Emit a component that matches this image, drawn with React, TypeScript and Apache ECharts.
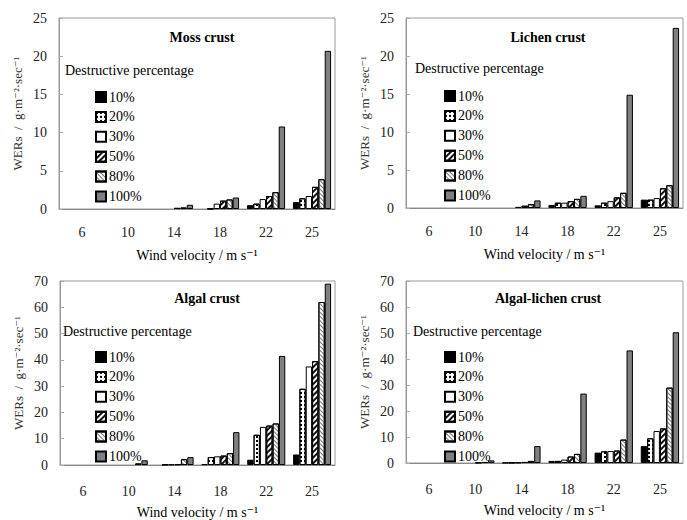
import React, { useEffect, useRef } from 'react';
import * as echarts from 'echarts';

const velocities = ['6', '10', '14', '18', '22', '25'];
const percentages = ['10%', '20%', '30%', '50%', '80%', '100%'];

// values per wind velocity: [10%, 20%, 30%, 50%, 80%, 100%]
const mossByVelocity = [
  [0, 0, 0, 0, 0, 0],
  [0, 0, 0, 0, 0, 0],
  [0, 0, 0, 0.15, 0.2, 0.55],
  [0, 0.05, 0.7, 1.1, 1.25, 1.5],
  [0.5, 0.7, 1.3, 1.7, 2.2, 10.8],
  [0.9, 1.4, 1.7, 2.9, 3.9, 20.7],
];
const lichenByVelocity = [
  [0, 0, 0, 0, 0, 0],
  [0, 0, 0, 0, 0, 0],
  [0, 0, 0.15, 0.3, 0.5, 1.0],
  [0.4, 0.7, 0.7, 0.9, 1.2, 1.6],
  [0.35, 0.7, 0.9, 1.4, 2.0, 14.9],
  [1.1, 1.1, 1.3, 2.6, 3.0, 23.7],
];
const algalByVelocity = [
  [0, 0, 0, 0, 0, 0],
  [0, 0, 0, 0, 0.6, 1.8],
  [0, 0.2, 0.2, 0.3, 2.2, 3.0],
  [0.3, 3.0, 3.3, 3.6, 4.5, 12.5],
  [2.0, 11.5, 14.5, 15.0, 15.8, 41.5],
  [4.0, 29.0, 37.5, 39.5, 62.0, 69.0],
];
const algalLichenByVelocity = [
  [0, 0, 0, 0, 0, 0],
  [0, 0, 0, 0.2, 0.4, 1.0],
  [0.1, 0.2, 0.2, 0.4, 0.8, 6.5],
  [0.8, 0.8, 1.3, 2.5, 3.5, 26.7],
  [4.0, 4.5, 4.6, 4.8, 9.0, 43.3],
  [6.5, 9.5, 12.3, 13.3, 29.0, 50.3],
];

const panelTitles = ['Moss crust', 'Lichen crust', 'Algal crust', 'Algal-lichen crust'];
const panelData = [mossByVelocity, lichenByVelocity, algalByVelocity, algalLichenByVelocity];
const panelMax = [25, 25, 70, 70];
const panelInterval = [5, 5, 10, 10];

const SERIF = "'Liberation Serif', 'Times New Roman', Times, 'DejaVu Serif', 'Noto Serif', serif";

const grids = [
  { left: 59, top: 18, width: 276, height: 191 },
  { left: 406, top: 18, width: 277, height: 190 },
  { left: 60, top: 281, width: 275, height: 184 },
  { left: 406, top: 281, width: 277, height: 182 },
];

const styles = [
  { color: '#000000' },
  {
    color: '#ffffff',
    decal: { symbol: 'rect', color: '#000', dashArrayX: [2, 2], dashArrayY: [2, 2], rotation: 0 },
  },
  { color: '#ffffff' },
  {
    color: '#ffffff',
    decal: { symbol: 'rect', color: '#111', dashArrayX: [1, 0], dashArrayY: [1.5, 1.5], rotation: -Math.PI / 4 },
  },
  {
    color: '#ffffff',
    decal: { symbol: 'rect', color: '#777', dashArrayX: [1, 0], dashArrayY: [1, 1.5], rotation: Math.PI / 4 },
  },
  { color: '#808080' },
];

export default function App() {
  const ref = useRef<HTMLDivElement>(null);
  useEffect(() => {
    document.body.style.margin = '0';
    const chart = echarts.init(ref.current!, null, { renderer: 'svg' });
    const series: any[] = [];
    panelData.forEach((rows, i) => {
      percentages.forEach((p, j) => {
        series.push({
          type: 'bar',
          name: p,
          xAxisIndex: i,
          yAxisIndex: i,
          data: rows.map((r) => (r[j] === 0 ? null : r[j])),
          barGap: '0%',
          barCategoryGap: '17%',
          itemStyle: { ...styles[j], borderColor: '#000', borderWidth: 1 },
        });
      });
    });
    const legendPos = [
      { left: 90, top: 85 },
      { left: 439, top: 84 },
      { left: 90, top: 345 },
      { left: 439, top: 345 },
    ];
    const titlePos = [
      { x: 202, y: 37 },
      { x: 548, y: 37 },
      { x: 207, y: 298 },
      { x: 548, y: 298 },
    ];
    const destPos = [
      { x: 65, y: 70 },
      { x: 415, y: 68 },
      { x: 63, y: 331 },
      { x: 413, y: 331 },
    ];
    const graphic: any[] = [];
    titlePos.forEach((t, i) => {
      graphic.push({
        type: 'text',
        x: t.x,
        y: t.y,
        style: {
          text: panelTitles[i],
          fontFamily: SERIF,
          fontSize: 14,
          fontWeight: 'bold',
          fill: '#000',
          textAlign: 'center',
          textVerticalAlign: 'middle',
        },
      });
      graphic.push({
        type: 'text',
        x: destPos[i].x,
        y: destPos[i].y,
        style: {
          text: 'Destructive percentage',
          fontFamily: SERIF,
          fontSize: 14,
          fill: '#000',
          textAlign: 'left',
          textVerticalAlign: 'middle',
        },
      });
    });
    chart.setOption({
      animation: false,
      backgroundColor: '#fff',
      textStyle: { fontFamily: SERIF },
      grid: grids.map((g) => ({ ...g, show: true, borderColor: '#999', borderWidth: 1 })),
      xAxis: grids.map((_, i) => ({
        type: 'category',
        gridIndex: i,
        data: velocities,
        name: 'Wind velocity / m s⁻¹',
        nameLocation: 'middle',
        nameGap: i < 2 ? 39 : 40,
        nameTextStyle: { fontFamily: SERIF, fontSize: 14, color: '#000' },
        axisLine: { lineStyle: { color: '#888' } },
        axisTick: { length: 4, lineStyle: { color: '#bbb' } },
        axisLabel: { fontFamily: SERIF, fontSize: 14, color: '#222', margin: i < 2 ? 16 : 19 },
      })),
      yAxis: grids.map((_, i) => ({
        type: 'value',
        gridIndex: i,
        min: 0,
        max: panelMax[i],
        interval: panelInterval[i],
        name: 'WERs  /  g·m⁻²·sec⁻¹',
        nameLocation: 'middle',
        nameRotate: 90,
        nameGap: 35,
        nameTextStyle: { fontFamily: SERIF, fontSize: 13, color: '#333' },
        splitLine: { show: false },
        axisLine: { show: true, lineStyle: { color: '#999' } },
        axisTick: { show: true, inside: true, length: 4, lineStyle: { color: '#aaa' } },
        axisLabel: { fontFamily: SERIF, fontSize: 14, color: '#222', margin: 12 },
      })),
      legend: legendPos.map((l) => ({
        ...l,
        orient: 'vertical',
        icon: 'rect',
        itemWidth: 10,
        itemHeight: 10,
        itemGap: 5.9,
        selectedMode: false,
        data: percentages,
        textStyle: { fontFamily: SERIF, fontSize: 14, color: '#000', padding: [0, 0, 0, -2] },
      })),
      graphic,
      series,
    });
    return () => chart.dispose();
  }, []);
  return <div ref={ref} style={{ width: 687, height: 520 }} />;
}
